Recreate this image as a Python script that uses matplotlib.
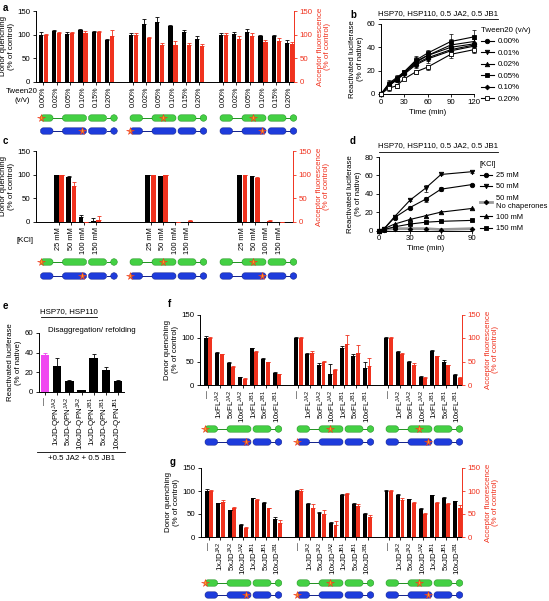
import numpy as np
import matplotlib
matplotlib.use('Agg')
import matplotlib.pyplot as plt
from matplotlib.patches import FancyBboxPatch, Circle

plt.rcParams['font.family'] = ['Liberation Sans', 'DejaVu Sans']
plt.rcParams['mathtext.fontset'] = 'custom'
plt.rcParams['mathtext.rm'] = 'Liberation Sans'
plt.rcParams['mathtext.it'] = 'Liberation Sans:italic'
plt.rcParams['mathtext.bf'] = 'Liberation Sans:bold'
plt.rcParams['mathtext.default'] = 'regular'
plt.rcParams['axes.linewidth'] = 0.7
plt.rcParams['xtick.major.width'] = 0.6
plt.rcParams['ytick.major.width'] = 0.6
plt.rcParams['xtick.major.size'] = 2
plt.rcParams['ytick.major.size'] = 2.5
plt.rcParams['xtick.major.pad'] = 1.5
plt.rcParams['ytick.major.pad'] = 1.5

FS = 5.7
plt.rcParams['font.size'] = FS

# ---------------- data ----------------
# panel a
tween_labels = ['0.00%', '0.02%', '0.05%', '0.10%', '0.15%', '0.20%']
a_donor = [[100, 108, 102, 110, 105, 88], [100, 123, 127, 119, 105, 90], [100, 102, 106, 98, 98, 82]]
a_donor_err = [[5, 2, 4, 2, 2, 3], [4, 11, 11, 2, 4, 8], [3, 3, 5, 2, 2, 7]]
a_acc = [[100, 104, 103, 104, 105, 97], [100, 92, 79, 79, 79, 76], [100, 91, 97, 84, 86, 80]]
a_acc_err = [[2, 2, 2, 3, 2, 12], [4, 4, 4, 7, 4, 4], [3, 6, 7, 5, 6, 5]]

# panel b
b_time = [0, 10, 20, 30, 45, 60, 90, 120]
b_labels = ['0.00%', '0.01%', '0.02%', '0.05%', '0.10%', '0.20%']
b_vals = [[0, 8, 13, 18, 27, 33, 40, 43],
          [0, 7, 12, 18, 26, 31, 38, 42],
          [0, 8, 13, 19, 28, 33, 42, 45],
          [0, 9, 14, 19, 29, 35, 45, 49],
          [0, 7, 12, 17, 25, 30, 37, 41],
          [0, 5, 7, 13, 19, 23, 34, 38]]
b_err = [[0, 2, 2, 1, 3, 3, 4, 4],
         [0, 2, 2, 1, 3, 3, 4, 5],
         [0, 3, 2, 1, 4, 3, 5, 5],
         [0, 3, 2, 2, 4, 3, 6, 6],
         [0, 2, 2, 1, 3, 3, 4, 4],
         [0, 2, 2, 1, 2, 2, 3, 3]]

# panel c
kcl_labels = ['25 mM', '50 mM', '100 mM', '150 mM']
c_donor = [[100, 95, 10, 3], [100, 97, 0, 0], [100, 97, 1, 0]]
c_donor_err = [[0, 2, 5, 6], [0, 0, 0, 0], [0, 0, 0, 0]]
c_acc = [[100, 77, 0, 5], [100, 100, 0, 2], [100, 92, 2, 0]]
c_acc_err = [[0, 7, 0, 8], [0, 0, 0, 3], [0, 3, 2, 0]]

# panel d
d_time = [0, 5, 15, 30, 45, 60, 90]
d_labels = ['25 mM', '50 mM', '50 mM\nNo chaperones', '100 mM', '150 mM']
d_vals = [[0, 2, 14, 25, 34, 45, 50],
          [0, 2, 15, 33, 46, 61, 64],
          [0, 1, 2, 2, 2, 1, 2],
          [0, 2, 7, 12, 16, 20, 24],
          [0, 1, 4, 7, 9, 10, 11]]
d_err = [[0, 0, 2, 2, 3, 2, 1],
         [0, 0, 1, 1, 4, 1, 1],
         [0, 0, 0, 0, 0, 0, 0],
         [0, 0, 0, 1, 1, 1, 1],
         [0, 0, 0, 0, 1, 1, 1]]

# panel e
e_labels = ['—', '1xJD-QPN$^{JA2}$', '5xJD-QPN$^{JA2}$', '10xJD-QPN$^{JA2}$',
            '1xJD-QPN$^{JB1}$', '5xJD-QPN$^{JB1}$', '10xJD-QPN$^{JB1}$']
e_vals = [38, 26, 11, 2, 35, 22, 11]
e_err = [2, 9, 1, 0.5, 4, 3, 1]

# panel f
f_labels = ['—', '1xFL$^{JA2}$', '5xFL$^{JA2}$', '10xFL$^{JA2}$',
            '1xFL$^{JB1}$', '5xFL$^{JB1}$', '10xFL$^{JB1}$']
f_donor = [[100, 69, 46, 17, 78, 56, 26], [100, 66, 42, 24, 78, 62, 36], [100, 71, 48, 16, 73, 50, 21]]
f_donor_err = [[4, 1, 2, 1, 1, 1, 2], [3, 3, 4, 20, 6, 3, 12], [3, 2, 4, 4, 1, 3, 3]]
f_acc = [[100, 65, 39, 13, 71, 48, 23], [100, 69, 48, 32, 88, 68, 40], [100, 65, 43, 14, 61, 42, 15]]
f_acc_err = [[2, 1, 1, 1, 2, 1, 1], [3, 3, 3, 3, 18, 17, 17], [2, 3, 3, 3, 1, 1, 1]]

# panel g
g_labels = ['—', '1xJD$^{JA2}$', '5xJD$^{JA2}$', '10xJD$^{JA2}$',
            '1xJD$^{JB1}$', '5xJD$^{JB1}$', '10xJD$^{JB1}$']
g_donor = [[100, 73, 58, 27, 84, 74, 40], [100, 71, 53, 30, 92, 72, 50], [100, 92, 82, 61, 91, 84, 78]]
g_donor_err = [[5, 1, 1, 1, 1, 2, 4], [3, 3, 2, 2, 1, 2, 2], [2, 1, 1, 2, 1, 2, 1]]
g_acc = [[100, 76, 63, 20, 80, 63, 31], [100, 62, 49, 27, 93, 67, 44], [100, 80, 74, 50, 74, 71, 64]]
g_acc_err = [[2, 4, 3, 2, 3, 1, 5], [4, 10, 10, 7, 3, 4, 3], [2, 4, 2, 3, 3, 3, 5]]

# ---------------- styling ----------------
W, H = 549, 601
RED = '#f0321e'
MAGENTA = '#f046f0'
GREEN = '#44d044'
GREEN_E = '#1f8f1f'
BLUE = '#1e3cdc'
BLUE_E = '#10208a'
ORANGE = '#ffa020'

fig = plt.figure(figsize=(W / 100, H / 100), dpi=100)


def axes_px(x0, y_top, x1, y_bot):
    return fig.add_axes([x0 / W, 1 - y_bot / H, (x1 - x0) / W, (y_bot - y_top) / H])


def upper_err(ax, x, y, e, color):
    e = np.asarray(e, float)
    ax.errorbar(x, y, yerr=[np.zeros_like(e), e], fmt='none', ecolor=color,
                elinewidth=0.6, capsize=1.3, capthick=0.6, zorder=3)


def bar_panel(box, donor, derr, acc, aerr, labels, gstep, xlim, width, off,
              xfs=FS, right_pad=3):
    ax = axes_px(*box)
    n = len(labels)
    ng = len(donor)
    pos = np.concatenate([g * gstep + np.arange(n) for g in range(ng)])
    d = np.concatenate(donor)
    de = np.concatenate(derr)
    a = np.concatenate(acc)
    ae = np.concatenate(aerr)
    ax.bar(pos - off, d, width, color='black', zorder=2)
    upper_err(ax, pos - off, d, de, 'black')
    ax.bar(pos + off, a, width, color=RED, zorder=2)
    upper_err(ax, pos + off, a, ae, RED)
    ax.set_xlim(*xlim)
    ax.set_ylim(0, 150)
    ax.set_yticks([0, 50, 100, 150])
    ax.set_xticks(pos)
    ax.set_xticklabels(labels * ng, rotation=90, fontsize=xfs)
    ax.tick_params(axis='y', labelsize=FS)
    for s in ['top', 'right']:
        ax.spines[s].set_visible(False)
    ax.set_ylabel('Donor quenching\n(% of control)', fontsize=FS, labelpad=2, linespacing=1.1)
    ax2 = ax.twinx()
    ax2.set_ylim(0, 150)
    ax2.set_yticks([0, 50, 100, 150])
    for s in ['top', 'left', 'bottom']:
        ax2.spines[s].set_visible(False)
    ax2.spines['right'].set_color(RED)
    ax2.tick_params(axis='y', colors=RED, labelsize=FS)
    ax2.set_ylabel('Acceptor fluorescence\n(% of control)', color=RED, fontsize=FS,
                   labelpad=right_pad, linespacing=1.1)
    return ax


# panel a
bar_panel((36, 11, 294, 82), a_donor, a_donor_err, a_acc, a_acc_err, tween_labels,
          6.8, (-0.55, 18.95), 0.32, 0.19, xfs=5.2)

# panel c
bar_panel((36, 151, 293, 222), c_donor, c_donor_err, c_acc, c_acc_err, kcl_labels,
          7.4, (-1.85, 18.9), 0.38, 0.22, xfs=5.4)

# panel f
bar_panel((200, 314.5, 462, 385), f_donor, f_donor_err, f_acc, f_acc_err, f_labels,
          7.85, (-0.7, 22.1), 0.34, 0.2)

# panel g
bar_panel((201, 468, 462, 537), g_donor, g_donor_err, g_acc, g_acc_err, g_labels,
          7.85, (-0.7, 22.1), 0.34, 0.2)

# panel e
axe = axes_px(39, 333, 124, 392)
epos = np.arange(len(e_vals))
ecol = [MAGENTA] + ['black'] * (len(e_vals) - 1)
axe.bar(epos, e_vals, 0.7, color=ecol, zorder=2)
for i in range(len(e_vals)):
    upper_err(axe, [epos[i]], [e_vals[i]], [e_err[i]], ecol[i])
axe.set_xlim(-0.5, 6.5)
axe.set_ylim(0, 60)
axe.set_yticks([0, 20, 40, 60])
axe.set_xticks(epos)
axe.set_xticklabels(e_labels, rotation=90, fontsize=FS)
for s in ['top', 'right']:
    axe.spines[s].set_visible(False)
axe.set_ylabel('Reactivated luciferase\n(% of native)', fontsize=FS, labelpad=2, linespacing=1.1)

# line panels
def line_panel(box, t, vals, errs, markers, mfcs, labels, xlim, xticks, ylim, yticks,
               colors):
    ax = axes_px(*box)
    handles = []
    for v, e, m, fc, lab, c in zip(vals, errs, markers, mfcs, labels, colors):
        ax.errorbar(t, v, yerr=e, fmt='none', ecolor='black', elinewidth=0.5,
                    capsize=1.2, capthick=0.5, clip_on=False, zorder=3)
        h, = ax.plot(t, v, color=c, lw=0.8 if c == 'black' else 2.0, marker=m,
                     ms=3.2, mfc=fc, mec='black', mew=0.6, clip_on=False, zorder=4,
                     label=lab)
        handles.append(h)
    ax.set_xlim(*xlim)
    ax.set_ylim(*ylim)
    ax.set_xticks(xticks)
    ax.set_yticks(yticks)
    for s in ['top', 'right']:
        ax.spines[s].set_visible(False)
    ax.tick_params(labelsize=FS)
    ax.set_xlabel('Time (min)', fontsize=FS, labelpad=2)
    ax.set_ylabel('Reactivated luciferase\n(% of native)', fontsize=FS, labelpad=2,
                  linespacing=1.1)
    return ax, handles


axb, hb = line_panel((381, 24, 474, 94), b_time, b_vals, b_err,
                     ['o', 'v', '^', 's', 'D', 's'],
                     ['black'] * 5 + ['white'], b_labels, (0, 120),
                     [0, 30, 60, 90, 120], (0, 60), [0, 20, 40, 60], ['black'] * 6)
hb[4].set_markersize(2.4)
legb = fig.legend(handles=hb, loc='upper left', bbox_to_anchor=(477 / W, 1 - 23 / H),
                  frameon=False, fontsize=FS, title='Tween20 (v/v)', title_fontsize=FS,
                  handlelength=1.6, handletextpad=0.5, labelspacing=0.5, borderpad=0)
legb._legend_box.align = 'left'

axd, hd = line_panel((379, 157, 472, 230.5), d_time, d_vals, d_err,
                     ['o', 'v', 'D', '^', 's'],
                     ['black'] * 5, d_labels, (0, 90), [0, 30, 60, 90], (0, 80),
                     [0, 20, 40, 60, 80], ['black', 'black', '#9a9a9a', 'black', 'black'])
hd[2].set_markersize(2.4)
legd = fig.legend(handles=hd, loc='upper left', bbox_to_anchor=(476 / W, 1 - 157 / H),
                  frameon=False, fontsize=5.4, title='[KCl]', title_fontsize=5.4,
                  handlelength=1.6, handletextpad=0.5, labelspacing=0.55, borderpad=0)
legd._legend_box.align = 'left'

# ---------------- overlay: text and constructs ----------------
ov = fig.add_axes([0, 0, 1, 1])
ov.set_xlim(0, W)
ov.set_ylim(H, 0)
ov.axis('off')


def construct(x0, y, fc, ec, star):
    h = 6.4
    lc = ec
    ov.plot([x0 + 12, x0 + 23], [y, y], color=lc, lw=0.7, zorder=1)
    ov.plot([x0 + 66, x0 + 70], [y, y], color=lc, lw=0.7, zorder=1)
    for a, b in [(0, 12.5), (22, 46), (48, 66)]:
        ov.add_patch(FancyBboxPatch((x0 + a, y - h / 2), b - a, h,
                                    boxstyle='round,pad=0,rounding_size=%.2f' % (h / 2 - 0.2),
                                    fc=fc, ec=ec, lw=0.35, zorder=2))
    ov.add_patch(Circle((x0 + 73.5, y), 3.3, fc=fc, ec=ec, lw=0.35, zorder=2))
    ov.plot(x0 + star, y, marker='*', ms=5.5, mfc=ORANGE, mec=RED, mew=0.4, zorder=3)


def construct_rows(starts, yg, yb):
    green_star = [0, 33, 33]
    blue_star = [41, 0, 42]
    for s, gs, bs in zip(starts, green_star, blue_star):
        construct(s, yg, GREEN, GREEN_E, gs)
        construct(s, yb, BLUE, BLUE_E, bs)


construct_rows([40.5, 130, 220], 118, 131)
construct_rows([40.5, 130, 220], 262, 276)
construct_rows([205, 297, 386], 429, 442)
construct_rows([205, 297, 386], 583, 595)

# panel letters
for lab, x, y in [('a', 3, 8), ('b', 350, 15), ('c', 3, 141), ('d', 350, 141),
                  ('e', 3, 306), ('f', 168, 304), ('g', 170, 462)]:
    ov.text(x, y, lab, fontsize=7, fontweight='bold', ha='left', va='center')

# left captions
ov.text(22, 96, 'Tween20\n(v/v)', fontsize=FS, ha='center', va='center', linespacing=1.3)
ov.text(25, 240, '[KCl]', fontsize=FS, ha='center', va='center')

# titles with underline
for y_t, y_l in [(14, 19), (146, 152)]:
    ov.text(438, y_t, 'HSP70, HSP110, 0.5 JA2, 0.5 JB1', fontsize=FS, ha='center', va='center')
    ov.plot([379, 498], [y_l, y_l], color='black', lw=0.6)

ov.text(69, 312, 'HSP70, HSP110', fontsize=FS, ha='center', va='center')
ov.plot([41, 97], [317, 317], color='black', lw=0.6)
ov.text(48, 330, 'Disaggregation/ refolding', fontsize=FS, ha='left', va='center')
ov.plot([37, 125], [452, 452], color='black', lw=0.6)
ov.text(81, 459, '+0.5 JA2 + 0.5 JB1', fontsize=FS, ha='center', va='center')

fig.savefig('out.png', dpi=100)
